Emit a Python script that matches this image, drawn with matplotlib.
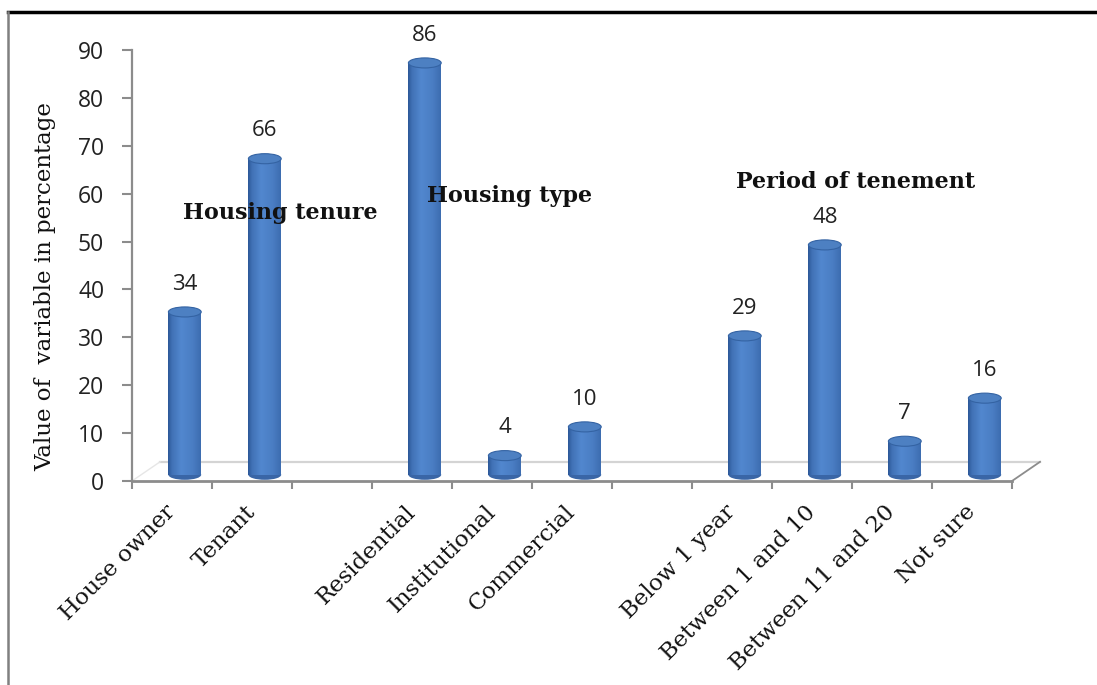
import numpy as np
import matplotlib
matplotlib.use('Agg')
import matplotlib.pyplot as plt
from matplotlib.patches import Ellipse, Polygon
from matplotlib.lines import Line2D

# data
categories = ['House owner', 'Tenant', '', 'Residential', 'Institutional', 'Commercial', '',
              'Below 1 year', 'Between 1 and 10', 'Between 11 and 20', 'Not sure']
values = [34, 66, None, 86, 4, 10, None, 29, 48, 7, 16]
group_names = ['Housing tenure', 'Housing type', 'Period of tenement']
group_pos = [(1.35, 56), (4.22, 59.5), (8.55, 62.5)]

serif = ['DejaVu Serif']
sans = ['Open Sans', 'DejaVu Sans']
axis_grey = '#8c8c8c'

fig = plt.figure(figsize=(10.97, 6.85), dpi=100)
ax = fig.add_axes([132/1097, 1 - 481/685, 880/1097, 431/685])
ax.set_xlim(-0.5, len(categories) - 0.5)
ax.set_ylim(0, 90)

# floor of the 3d plot
depth_x, depth_y = 0.35, 4.0
n = len(categories)
floor = Polygon([(-0.5, 0), (n - 0.5, 0), (n - 0.5 + depth_x, depth_y), (-0.5 + depth_x, depth_y)],
                closed=True, facecolor='white', edgecolor='none', clip_on=False, zorder=1)
ax.add_patch(floor)
ax.plot([-0.5 + depth_x, n - 0.5 + depth_x], [depth_y, depth_y], color='#d4d4d4', lw=1.6,
        clip_on=False, zorder=1.5)
ax.plot([n - 0.5, n - 0.5 + depth_x], [0, depth_y], color=axis_grey, lw=1.3, clip_on=False, zorder=1.5)
ax.plot([-0.5, -0.5 + depth_x], [0, depth_y], color='#e6e6e6', lw=1.0, clip_on=False, zorder=1.5)

# cylinder bars
shift = 0.16
width = 0.41
base = 1.3
ell_h = 2.1
grad = np.linspace(0, 1, 256)
# asymmetric shading: dark left edge, bright at ~40%, a bit darker on the right
shade = np.interp(grad, [0, 0.12, 0.4, 0.75, 1.0], [0.0, 0.55, 1.0, 0.8, 0.45])
dark = np.array([0.17, 0.34, 0.59])
light = np.array([0.32, 0.53, 0.81])
img = dark[None, :] + (light - dark)[None, :] * shade[:, None]
img = img[None, :, :]

for i, v in enumerate(values):
    if v is None:
        continue
    xc = i + shift
    bar = ax.bar(xc, v, width=width, bottom=base, color='none', edgecolor='none', zorder=3)[0]
    im = ax.imshow(img, extent=(xc - width/2, xc + width/2, base, base + v), aspect='auto',
                   zorder=3, interpolation='bilinear')
    im.set_clip_path(bar)
    ax.add_patch(Ellipse((xc, base), width, ell_h, facecolor='#3a66a6', edgecolor='none', zorder=2.9))
    ax.add_patch(Ellipse((xc, base + v), width, ell_h, facecolor='#4d80c2', edgecolor='#3463a3',
                         lw=0.8, zorder=3.2))
    ax.text(xc, base + v + 3.6, str(v), ha='center', va='bottom', fontsize=16, family=sans,
            color='#222222', zorder=4)

for name, (gx, gy) in zip(group_names, group_pos):
    ax.text(gx, gy, name, ha='center', va='center', fontsize=16, fontweight='bold',
            family=serif, color='#111111', zorder=5)

# axes styling
for s in ['top', 'right']:
    ax.spines[s].set_visible(False)
ax.spines['left'].set_color(axis_grey)
ax.spines['left'].set_linewidth(1.6)
ax.spines['bottom'].set_color(axis_grey)
ax.spines['bottom'].set_linewidth(2)
ax.set_yticks(range(0, 91, 10))
ax.tick_params(axis='y', colors=axis_grey, length=7, width=1.5, labelsize=16.5, pad=13)
for t in ax.get_yticklabels():
    t.set_color('#222222')
    t.set_family(sans)

ax.set_xticks(np.arange(-0.5, n, 1.0))
ax.set_xticklabels([])
ax.tick_params(axis='x', which='major', colors=axis_grey, length=6, width=1.5)
ax.set_xticks(np.arange(n), minor=True)
ax.set_xticklabels(categories, minor=True, rotation=45, ha='right', va='center',
                   rotation_mode='anchor', fontsize=16.5, family=serif, color='#111111')
ax.tick_params(axis='x', which='minor', length=0, pad=20)

ax.set_ylabel('Value of  variable in percentage', family=serif, fontsize=16.5, color='#111111')
ax.yaxis.set_label_coords(-0.086, 0.45)

# page frame
fig.add_artist(Line2D([8/1097, 1], [1 - 12/685, 1 - 12/685], color='black', lw=2.5, transform=fig.transFigure))
fig.add_artist(Line2D([8/1097, 8/1097], [0, 1 - 12/685], color='#808080', lw=1.8, transform=fig.transFigure))

fig.savefig('out.png', dpi=100)
